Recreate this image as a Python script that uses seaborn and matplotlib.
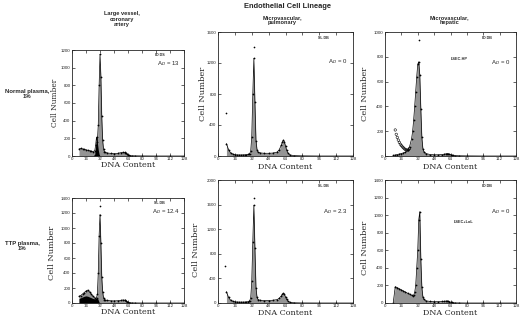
import matplotlib
matplotlib.use("Agg")
import matplotlib.pyplot as plt
import seaborn as sns
import pandas as pd

# DNA content channels (shared x grid for all six histograms)
CHANNELS = [8, 10, 12, 14, 16, 18, 20, 22, 24, 26, 27, 28, 29, 30, 31, 32, 33, 34,
            35, 36, 37, 38, 40, 44, 48, 52, 56, 58, 60, 61, 62, 63, 64, 65, 66, 68,
            72, 80, 96, 112, 128]

# cell counts, one list per panel
NP_CORONARY = [80, 85, 80, 75, 70, 65, 60, 55, 50, 60, 120, 215, 160, 350, 800, 1150, 900, 450, 180, 80,
               50, 40, 35, 30, 28, 30, 38, 42, 40, 38, 30, 20, 12, 8, 5, 3, 2, 1, 0, 0, 0]
NP_PULMONARY = [160, 80, 40, 25, 18, 15, 14, 14, 15, 16, 18, 20, 22, 30, 60, 250, 800, 1260, 700, 200,
                80, 50, 40, 35, 35, 38, 50, 80, 140, 180, 206, 180, 130, 80, 45, 15, 5, 2, 0, 0, 0]
NP_HEPATIC = [5, 8, 12, 16, 20, 25, 32, 45, 75, 140, 200, 290, 400, 520, 640, 740, 760, 650, 380, 150,
              60, 35, 20, 12, 10, 10, 12, 15, 18, 20, 18, 15, 12, 8, 6, 4, 2, 1, 0, 0, 0]
TTP_CORONARY = [90, 100, 120, 140, 160, 172, 150, 120, 90, 70, 60, 70, 120, 400, 900, 1180, 800, 350, 150, 70,
                45, 40, 35, 30, 28, 30, 35, 40, 38, 35, 28, 18, 10, 6, 4, 2, 1, 0, 0, 0, 0]
TTP_PULMONARY = [184, 90, 45, 28, 20, 17, 15, 15, 15, 16, 18, 20, 25, 35, 80, 350, 1000, 1590, 900, 250,
                 90, 55, 45, 40, 40, 45, 55, 75, 115, 140, 158, 140, 100, 60, 35, 12, 4, 1, 0, 0, 0]
TTP_HEPATIC = [0, 186, 175, 162, 150, 137, 125, 112, 100, 88, 82, 90, 120, 200, 400, 600, 950, 1040, 500, 180,
               70, 40, 25, 18, 15, 15, 18, 20, 22, 22, 20, 15, 10, 6, 4, 2, 1, 0, 0, 0, 0]

# apoptotic (sub-G1) component, drawn black
NP_CORONARY_APO = [0, 0, 0, 0, 0, 0, 0, 0, 0, 20, 110, 215, 150, 70, 20] + [0] * 26
TTP_CORONARY_APO = [60, 70, 80, 90, 95, 90, 80, 70, 60, 55, 55, 60, 70, 40, 10] + [0] * 26

# debris shown as open circles in the hepatic normal-plasma panel
DEBRIS_CH = [10, 11, 12, 13, 14, 15, 16, 17, 18, 19, 20, 21, 22, 23, 24]
DEBRIS_N = [210, 175, 150, 128, 110, 95, 84, 74, 66, 58, 52, 48, 47, 50, 60]

# stray single events
OUT_CH = [[], [8, 34], [33], [32], [7, 34], []]
OUT_N = [[], [550, 1410], [935], [1300], [600, 1700], []]

AD_LABELS = ["13", "0", "0", "12.4", "2.3", "0"]
TAGS = ["ID DS", "SL DB", "ID DB", "SL DB", "SL DB", "ID DB"]
YMAX = [1200, 1600, 1000, 1400, 2000, 1400]
YSTEP = [200, 400, 200, 200, 400, 200]
XTICKS = [0, 16, 32, 48, 64, 80, 96, 112, 128]

COL_HEADS = ["Large vessel,\ncoronary\nartery", "Microvascular,\npulmonary", "Microvascular,\nhepatic"]
ROW_HEADS = ["Normal plasma,\n1%", "TTP plasma,\n1%"]

sns.set_style("ticks")
plt.rcParams['font.family'] = ['Liberation Sans', 'DejaVu Sans']

W, H = 520, 316
fig = plt.figure(figsize=(5.2, 3.16), dpi=100)

# axes boxes in pixels: left, top, right, bottom
boxes = [(72, 50, 184, 156), (218, 32, 353, 156), (385, 32, 516, 156),
         (72, 198, 184, 303), (218, 180, 353, 303), (385, 180, 516, 303)]
ylab_x = [-0.15, -0.11, -0.15, -0.18, -0.16, -0.15]
ylab_y = [0.5, 0.5, 0.5, 0.48, 0.43, 0.45]
ad_y = [0.87, 0.76, 0.75, 0.87, 0.74, 0.74]

panels = [NP_CORONARY, NP_PULMONARY, NP_HEPATIC, TTP_CORONARY, TTP_PULMONARY, TTP_HEPATIC]
apo = {0: NP_CORONARY_APO, 3: TTP_CORONARY_APO}

for i, counts in enumerate(panels):
    l, t, r, b = boxes[i]
    ax = fig.add_axes([l / W, 1 - b / H, (r - l) / W, (b - t) / H])
    df = pd.DataFrame({'DNA': CHANNELS, 'Cells': counts})
    ax.fill_between(df['DNA'], df['Cells'], color='#949494', lw=0)
    if i in apo:
        ax.fill_between(CHANNELS, apo[i], color='black', lw=0)
    sns.lineplot(data=df, x='DNA', y='Cells', ax=ax, color='black', lw=0.5,
                 marker='o', markersize=1.3, markeredgewidth=0)
    if i == 2:
        sns.scatterplot(x=DEBRIS_CH, y=DEBRIS_N, ax=ax, s=3, facecolor='none',
                        edgecolor='black', linewidth=0.4)
    if OUT_CH[i]:
        sns.scatterplot(x=OUT_CH[i], y=OUT_N[i], ax=ax, s=1.5, color='black', linewidth=0)

    ax.set_xlim(0, 128)
    ax.set_ylim(0, YMAX[i])
    ax.set_xticks(XTICKS)
    ax.set_yticks(range(0, YMAX[i] + 1, YSTEP[i]))
    ax.tick_params(direction='in', length=2, width=0.5, labelsize=3.2, pad=1,
                   top=True, right=True)
    for s in ax.spines.values():
        s.set_linewidth(0.6)
    ax.set_xlabel("")
    ax.set_ylabel("")
    ax.text(0.5, -0.085, "DNA Content", transform=ax.transAxes, ha='center', va='center',
            fontsize=5.8, family='DejaVu Serif')
    ax.text(ylab_x[i], ylab_y[i], "Cell Number", transform=ax.transAxes, ha='center', va='center',
            rotation=90, fontsize=6 if i else 5.4, family='DejaVu Serif')
    ax.text(0.96, ad_y[i], "A$_D$ = " + AD_LABELS[i], transform=ax.transAxes, ha='right', va='center',
            fontsize=4.3)
    ax.text(0.78, 0.955, TAGS[i], transform=ax.transAxes, ha='center', va='center',
            fontsize=2.6, fontweight='bold')
    if i == 2:
        ax.text(0.57, 0.78, "LSEC-HP", transform=ax.transAxes, ha='center', va='center',
                fontsize=2.8, fontweight='bold')
    if i == 5:
        ax.text(0.6, 0.66, "LSEC+LoL", transform=ax.transAxes, ha='center', va='center',
                fontsize=2.8, fontweight='bold')

fig.text(287 / W, 1 - 6 / H, "Endothelial Cell Lineage", ha='center', va='center',
         fontsize=5.4, fontweight='bold')
for x, y, txt in zip([122, 282, 449], [19, 20, 20], COL_HEADS):
    fig.text(x / W, 1 - y / H, txt, ha='center', va='center', fontsize=4.1,
             fontweight='bold', linespacing=1.05)
for x, y, txt in zip([27, 22], [94, 246], ROW_HEADS):
    fig.text(x / W, 1 - y / H, txt, ha='center', va='center', fontsize=4.3,
             fontweight='bold', linespacing=1.05)

fig.savefig("out.png", dpi=100)
